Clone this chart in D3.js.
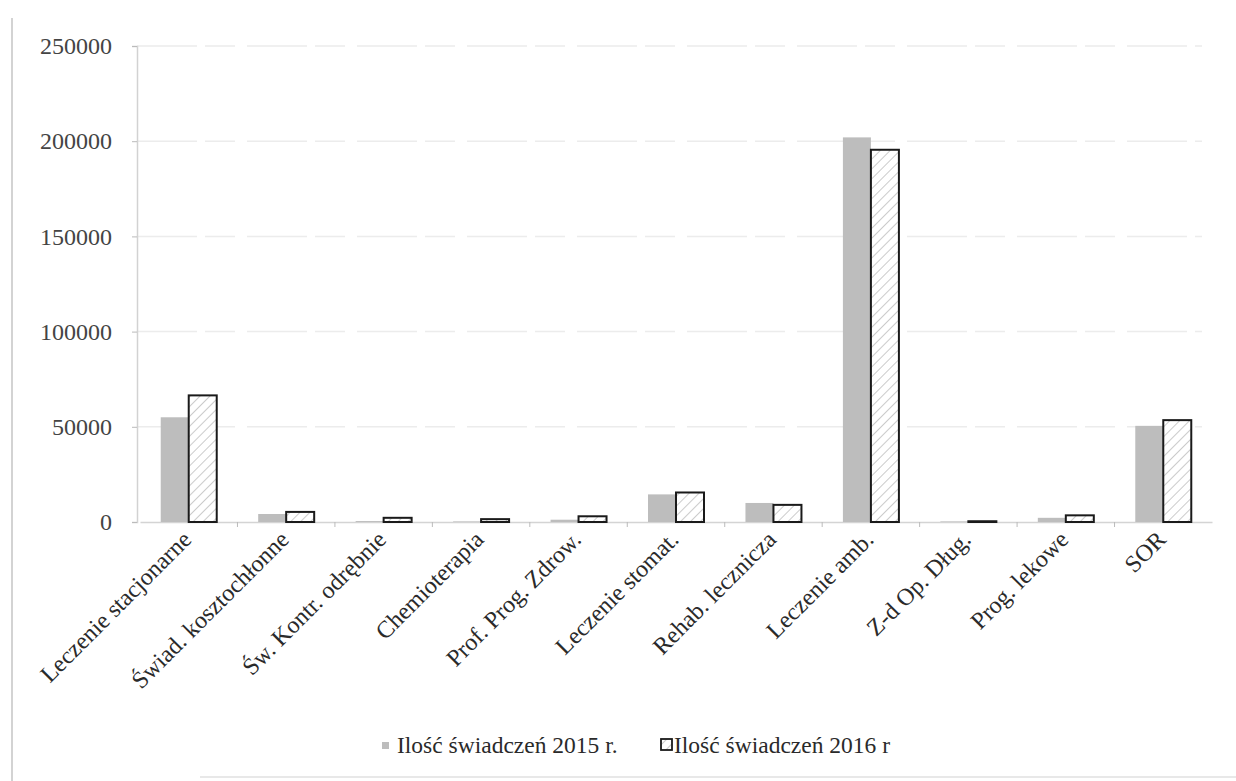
<!DOCTYPE html>
<html>
<head>
<meta charset="utf-8">
<script src="https://cdn.jsdelivr.net/npm/d3@7"></script>
<style>
  body { margin: 0; background: #fff; }
  svg { display: block; font-family: "Liberation Serif", "DejaVu Serif", serif; }
</style>
</head>
<body>
<svg width="1236" height="781"></svg>
<script>
const categories = ["Leczenie stacjonarne", "Świad. kosztochłonne", "Św. Kontr. odrębnie",
  "Chemioterapia", "Prof. Prog. Zdrow.", "Leczenie stomat.", "Rehab. lecznicza",
  "Leczenie amb.", "Z-d Op. Dług.", "Prog. lekowe", "SOR"]
const series = ["Ilość świadczeń 2015 r.", "Ilość świadczeń 2016 r"]
const values2015 = [55000, 4200, 500, 300, 1200, 14500, 10000, 202000, 300, 2200, 50500]
const values2016 = [66500, 5300, 2200, 1500, 3000, 15500, 9000, 195500, 400, 3500, 53500]
const yTicks = [0, 50000, 100000, 150000, 200000, 250000]

const svg = d3.select("svg")
const plot = {left: 137, right: 1212, top: 46, bottom: 522}

const data = categories.map((c, i) => ({cat: c, v: [values2015[i], values2016[i]]}))

// hatch for the 2016 bars
const defs = svg.append("defs")
const hatch = defs.append("pattern")
  .attr("id", "hatch")
  .attr("patternUnits", "userSpaceOnUse")
  .attr("width", 7).attr("height", 7)
  .attr("patternTransform", "rotate(45)")
hatch.append("rect").attr("width", 7).attr("height", 7).attr("fill", "#fff")
hatch.append("line")
  .attr("x1", 0).attr("y1", 0).attr("x2", 0).attr("y2", 7)
  .attr("stroke", "#a8a8a8").attr("stroke-width", 1.2)

// scanned page borders
svg.append("line").attr("x1", 12).attr("x2", 12).attr("y1", 18).attr("y2", 781)
  .attr("stroke", "#c4c4c4").attr("stroke-width", 1.5)
svg.append("line").attr("x1", 200).attr("x2", 1236).attr("y1", 777).attr("y2", 777)
  .attr("stroke", "#e0e0e0").attr("stroke-width", 1.5)

const x0 = d3.scaleBand().domain(categories).range([plot.left + 3, plot.right])
const x1 = d3.scaleBand().domain([0, 1])
  .range([x0.bandwidth() / 2 - 28, x0.bandwidth() / 2 + 28])
const y = d3.scaleLinear().domain([0, 250000]).range([plot.bottom, plot.top])

// gridlines
svg.append("g")
  .selectAll("line")
  .data(yTicks.slice(1))
  .join("line")
    .attr("x1", plot.left).attr("x2", plot.right - 10)
    .attr("y1", d => y(d)).attr("y2", d => y(d))
    .attr("stroke", "#ececec").attr("stroke-width", 1.5)
    .attr("stroke-dasharray", "60,8,30,12")

// y axis
const yAxis = svg.append("g")
  .attr("transform", `translate(${plot.left},0)`)
  .call(d3.axisLeft(y).tickValues(yTicks).tickFormat(d3.format("d")).tickSize(5).tickPadding(20))
yAxis.select(".domain").attr("stroke", "#d2d2d2").attr("stroke-width", 1.5)
yAxis.selectAll(".tick line").attr("stroke", "#bbb")
yAxis.selectAll("text")
  .attr("font-size", 24).attr("fill", "#444")
  .attr("font-family", "Liberation Serif")

// x axis
const xAxis = svg.append("g")
  .attr("transform", `translate(0,${plot.bottom})`)
  .call(d3.axisBottom(x0).tickSize(0).tickPadding(0))
xAxis.select(".domain").attr("stroke", "#d4d4d4").attr("stroke-width", 1.5)
xAxis.selectAll(".tick text").remove()
// tick marks between categories
svg.append("g")
  .selectAll("line")
  .data(categories.slice(1))
  .join("line")
    .attr("x1", d => x0(d)).attr("x2", d => x0(d))
    .attr("y1", plot.bottom).attr("y2", plot.bottom + 5)
    .attr("stroke", "#bbb")

// category labels
svg.append("g")
  .selectAll("text")
  .data(categories)
  .join("text")
    .attr("transform", d => `translate(${x0(d) + x0.bandwidth() / 2 + 4},${plot.bottom + 19}) rotate(-45)`)
    .attr("text-anchor", "end")
    .attr("font-size", 24)
    .attr("fill", "#2a2a2a")
    .text(d => d)

// bars
const groups = svg.append("g")
  .selectAll("g")
  .data(data)
  .join("g")
    .attr("transform", d => `translate(${x0(d.cat)},0)`)

groups.append("rect")
  .attr("x", x1(0))
  .attr("width", x1.bandwidth())
  .attr("y", d => y(d.v[0]))
  .attr("height", d => y(0) - y(d.v[0]))
  .attr("fill", "#bdbdbd")

groups.append("rect")
  .attr("x", x1(1))
  .attr("width", x1.bandwidth())
  .attr("y", d => y(d.v[1]))
  .attr("height", d => y(0) - y(d.v[1]))
  .attr("fill", "url(#hatch)")
  .attr("stroke", "#1a1a1a")
  .attr("stroke-width", 2)

// legend
const legend = svg.append("g").attr("transform", "translate(382,746)")
legend.append("rect").attr("x", 0).attr("y", -4).attr("width", 7).attr("height", 7).attr("fill", "#bdbdbd")
legend.append("text").attr("x", 15).attr("y", 7).attr("font-size", 23.5).attr("fill", "#2a2a2a").text(series[0])
legend.append("rect").attr("x", 279).attr("y", -7).attr("width", 11).attr("height", 11)
  .attr("fill", "url(#hatch)").attr("stroke", "#1a1a1a").attr("stroke-width", 1.8)
legend.append("text").attr("x", 292).attr("y", 7).attr("font-size", 23.5).attr("fill", "#2a2a2a").text(series[1])
</script>
</body>
</html>
